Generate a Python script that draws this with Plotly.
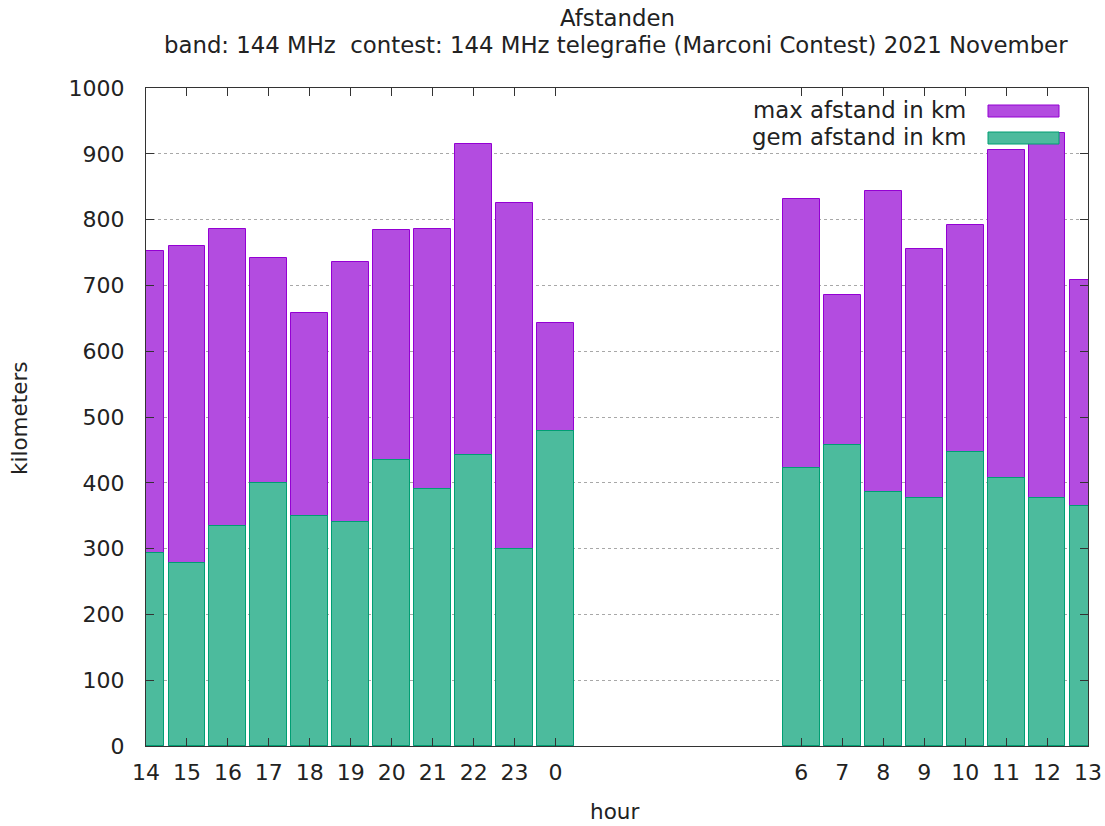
import plotly.graph_objects as go

# ---- data ----
hours = [14, 15, 16, 17, 18, 19, 20, 21, 22, 23, 0, 6, 7, 8, 9, 10, 11, 12, 13]
max_km = [753, 760, 786, 742, 658, 736, 784, 786, 915, 825, 643, 831, 686, 844, 755, 792, 906, 932, 708]
gem_km = [293, 278, 334, 400, 350, 340, 434, 391, 443, 300, 479, 423, 457, 386, 377, 447, 408, 377, 365]
start_hour = 14

pos = [(h - start_hour) % 24 for h in hours]
tick_text = [str(h) for h in hours]

PURPLE_FILL = "rgb(179,76,224)"
PURPLE_LINE = "#9400d3"
GREEN_FILL = "rgb(76,187,157)"
GREEN_LINE = "#009e73"
FONT = "DejaVu Sans"
FS = 21.5
FS_BIG = 22.8
TXT = "#222222"

fig = go.Figure()
fig.add_trace(go.Bar(x=pos, y=max_km, width=0.9, name="max afstand in km",
                     marker=dict(color=PURPLE_FILL, line=dict(color=PURPLE_LINE, width=1)),
                     showlegend=False))
fig.add_trace(go.Bar(x=pos, y=gem_km, width=0.9, name="gem afstand in km",
                     marker=dict(color=GREEN_FILL, line=dict(color=GREEN_LINE, width=1)),
                     showlegend=False))

L, R, T, B = 146, 17, 88, 80
W, H = 1105, 826
pw, ph = W - L - R, H - T - B

def px_x(px):
    return (px - L) / pw

def px_y(py):
    return (H - B - py) / ph

def ann(text, x, y, xanchor="center", angle=0, size=FS):
    return dict(text=text, x=px_x(x), y=px_y(y), xref="paper", yref="paper",
                showarrow=False, font=dict(family=FONT, size=size, color=TXT),
                xanchor=xanchor, yanchor="middle", textangle=angle)

annotations = [
    ann("Afstanden", 617, 18, size=FS_BIG),
    ann("band: 144 MHz \u00a0contest: 144 MHz telegrafie (Marconi Contest) 2021 November", 616, 45, size=FS_BIG),
    ann("max afstand in km", 968, 110, xanchor="right", size=FS_BIG),
    ann("gem afstand in km", 968, 137, xanchor="right", size=FS_BIG),
    ann("kilometers", 19, 419, angle=-90),
    ann("hour", 614, 811),
]
shapes = [
    dict(type="rect", xref="paper", yref="paper", x0=px_x(988), x1=px_x(1059),
         y0=px_y(117), y1=px_y(105), fillcolor=PURPLE_FILL,
         line=dict(color=PURPLE_LINE, width=1), layer="above"),
    dict(type="rect", xref="paper", yref="paper", x0=px_x(988), x1=px_x(1059),
         y0=px_y(144), y1=px_y(132), fillcolor=GREEN_FILL,
         line=dict(color=GREEN_LINE, width=1), layer="above"),
]

fig.update_layout(
    width=W, height=H,
    autosize=False,
    margin=dict(l=L, r=R, t=T, b=B, pad=0, autoexpand=False),
    barmode="overlay",
    plot_bgcolor="white", paper_bgcolor="white",
    font=dict(family=FONT, size=FS, color=TXT),
    annotations=annotations,
    shapes=shapes,
    bargap=0,
)
fig.update_xaxes(
    range=[0, 23], tickmode="array", tickvals=pos, ticktext=tick_text,
    ticks="inside", ticklen=8, tickcolor="#333", mirror="ticks",
    showline=True, linecolor="#333", linewidth=1, showgrid=False, zeroline=False,
    ticklabelstandoff=7, automargin=False,
    tickfont=dict(family=FONT, size=22, color=TXT),
)
fig.update_yaxes(
    range=[0, 1000], dtick=100, tick0=0,
    ticks="inside", ticklen=8, tickcolor="#333", mirror="ticks",
    showline=True, linecolor="#333", linewidth=1,
    showgrid=True, gridcolor="#a8a8a8", griddash="dot", gridwidth=1, zeroline=False,
    ticklabelstandoff=16, automargin=False,
    tickfont=dict(family=FONT, size=22, color=TXT),
)

fig.write_html("out.html", config={"displayModeBar": False},
               post_script="document.body.style.margin='0';document.body.style.padding='0';")
